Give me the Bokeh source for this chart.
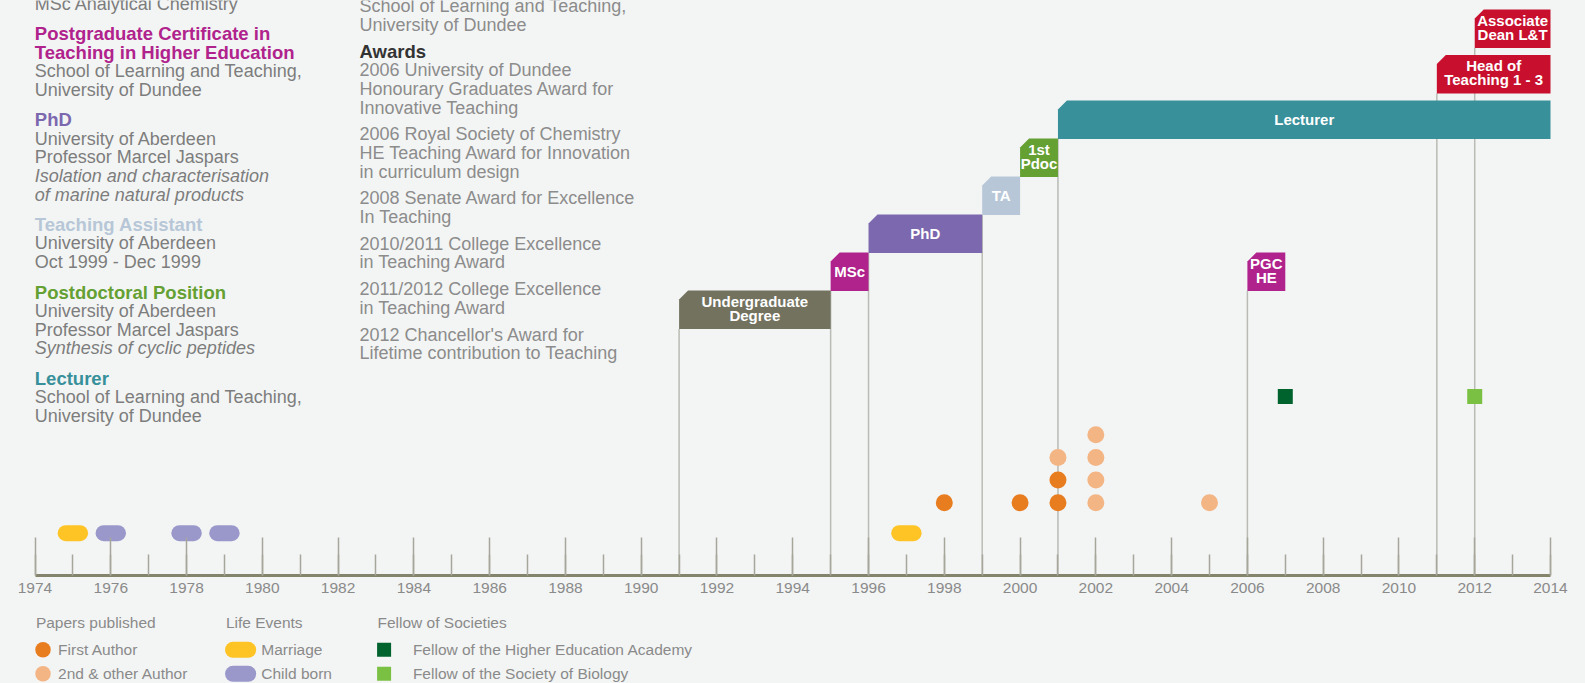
from collections import Counter

from bokeh.plotting import figure
from bokeh.models import Range1d, LinearAxis, SingleIntervalTicker, ColumnDataSource
from bokeh.layouts import column
from bokeh.embed import file_html
from bokeh.resources import INLINE
from bokeh.core.properties import value

# ---------------- data ----------------
role_names = ["Undergraduate\nDegree", "MSc", "PhD", "TA", "1st\nPdoc", "Lecturer",
              "PGC\nHE", "Head of\nTeaching 1 - 3", "Associate\nDean L&T"]
role_start = [1991, 1995, 1996, 1999, 2000, 2001, 2006, 2011, 2012]
role_end = [1995, 1996, 1999, 2000, 2001, 2014, 2007, 2014, 2014]
role_level = [5, 4, 3, 2, 1, 0, 4, -1, -2]
role_colors = ["#72725f", "#b0228c", "#7b68ae", "#b7c7d7", "#65a033", "#37909a",
               "#b0228c", "#c8102e", "#c8102e"]
role_has_line = [True, True, True, True, False, True, True, True, True]

first_author_years = [1998, 2000, 2001, 2001]
other_author_years = [2001, 2002, 2002, 2002, 2002, 2005]
marriage_years = [1975, 1997]
child_years = [1976, 1978, 1979]
fhea_years = [2007]
fsb_years = [2012]

axis_years = (1974, 2014)

left_groups = [
    [("MSc Analytical Chemistry", "normal", "#7d7d7d")],
    [("Postgraduate Certificate in", "bold", "#b0228c"),
     ("Teaching in Higher Education", "bold", "#b0228c"),
     ("School of Learning and Teaching,", "normal", "#7d7d7d"),
     ("University of Dundee", "normal", "#7d7d7d")],
    [("PhD", "bold", "#7b68ae"),
     ("University of Aberdeen", "normal", "#7d7d7d"),
     ("Professor Marcel Jaspars", "normal", "#7d7d7d"),
     ("Isolation and characterisation", "italic", "#7d7d7d"),
     ("of marine natural products", "italic", "#7d7d7d")],
    [("Teaching Assistant", "bold", "#b7c7d7"),
     ("University of Aberdeen", "normal", "#7d7d7d"),
     ("Oct 1999 - Dec 1999", "normal", "#7d7d7d")],
    [("Postdoctoral Position", "bold", "#65a033"),
     ("University of Aberdeen", "normal", "#7d7d7d"),
     ("Professor Marcel Jaspars", "normal", "#7d7d7d"),
     ("Synthesis of cyclic peptides", "italic", "#7d7d7d")],
    [("Lecturer", "bold", "#37909a"),
     ("School of Learning and Teaching,", "normal", "#7d7d7d"),
     ("University of Dundee", "normal", "#7d7d7d")],
]

middle_groups = [
    [("School of Learning and Teaching,", "normal", "#8c8c8c"),
     ("University of Dundee", "normal", "#8c8c8c")],
    [("Awards", "bold", "#333333"),
     ("2006 University of Dundee", "normal", "#8c8c8c"),
     ("Honourary Graduates Award for", "normal", "#8c8c8c"),
     ("Innovative Teaching", "normal", "#8c8c8c")],
    [("2006 Royal Society of Chemistry", "normal", "#8c8c8c"),
     ("HE Teaching Award for Innovation", "normal", "#8c8c8c"),
     ("in curriculum design", "normal", "#8c8c8c")],
    [("2008 Senate Award for Excellence", "normal", "#8c8c8c"),
     ("In Teaching", "normal", "#8c8c8c")],
    [("2010/2011 College Excellence", "normal", "#8c8c8c"),
     ("in Teaching Award", "normal", "#8c8c8c")],
    [("2011/2012 College Excellence", "normal", "#8c8c8c"),
     ("in Teaching Award", "normal", "#8c8c8c")],
    [("2012 Chancellor's Award for", "normal", "#8c8c8c"),
     ("Lifetime contribution to Teaching", "normal", "#8c8c8c")],
]

legend_titles = ["Papers published", "Life Events", "Fellow of Societies"]
legend_papers = ["First Author", "2nd & other Author"]
legend_life = ["Marriage", "Child born"]
legend_fellow = ["Fellow of the Higher Education Academy", "Fellow of the Society of Biology"]

# ---------------- layout constants ----------------
BG = "#f3f5f4"
FONT = value("Liberation Sans")
W = 1585
HA = 605
HB = 78
AXIS_Y = 575
TOP = 0
PX_1974, PX_2014 = 34.5, 1550.0
ppy = (PX_2014 - PX_1974) / (axis_years[1] - axis_years[0])
x_lo = axis_years[0] - (PX_1974 - TOP) / ppy
x_hi = x_lo + W / ppy

pA = figure(width=W, height=HA, x_range=Range1d(x_lo, x_hi), y_range=Range1d(AXIS_Y, TOP),
            output_backend="svg", toolbar_location=None, x_axis_location=None,
            y_axis_location=None, min_border=0, min_border_bottom=HA - (AXIS_Y - TOP),
            background_fill_color=BG, border_fill_color=BG, outline_line_color=None)
pA.grid.visible = False
pA.extra_x_ranges = {"px": Range1d(TOP, TOP + W)}

ax = LinearAxis(ticker=SingleIntervalTicker(interval=2, num_minor_ticks=2), bounds=axis_years)
ax.axis_line_color = "#84836c"
ax.axis_line_width = 3
ax.major_tick_in = 38
ax.major_tick_out = 0
ax.minor_tick_in = 21
ax.minor_tick_out = 0
ax.major_tick_line_color = "#a6a69a"
ax.minor_tick_line_color = "#a6a69a"
ax.major_tick_line_width = 1.5
ax.minor_tick_line_width = 1.5
ax.major_label_text_font = "Liberation Sans"
ax.major_label_text_font_size = "15.5px"
ax.major_label_text_color = "#8a8a8a"
ax.major_label_standoff = 7
pA.add_layout(ax, "below")

# ---------------- roles ----------------
BOX_H = 38.5
CH = 9.0


def role_top(level):
    return 100 + 38 * level if level >= 0 else 100 + 45.5 * level


tops = [role_top(l) for l in role_level]
bottoms = [t + BOX_H for t in tops]

# connector lines
lx = [s for s, h in zip(role_start, role_has_line) if h]
ly = [b for b, h in zip(bottoms, role_has_line) if h]
pA.segment(x0=lx, y0=ly, x1=lx, y1=[AXIS_Y] * len(lx), line_color="#b9bbb4", line_width=1.5)

xs, ys = [], []
ch_yr = CH / ppy
for s, e, t, b in zip(role_start, role_end, tops, bottoms):
    xs.append([s, s, s + ch_yr, e, e])
    ys.append([b, t + CH, t, t, b])
pA.patches(xs=xs, ys=ys, fill_color=role_colors, line_color=None)

label_y = [t + BOX_H / 2 - (1.5 if "\n" in n else 0) for t, n in zip(tops, role_names)]
pA.text(x=[(s + e) / 2 for s, e in zip(role_start, role_end)],
        y=label_y, text=role_names,
        text_font=FONT, text_font_style="bold", text_font_size="15px",
        text_color="white", text_align="center", text_baseline="middle",
        text_line_height=0.85)

# ---------------- papers ----------------
DOT_BASE = 502.3
DOT_STEP = 22.7
cnt = Counter()
fa_y, oa_y = [], []
for yv in first_author_years:
    fa_y.append(DOT_BASE - DOT_STEP * cnt[yv]); cnt[yv] += 1
for yv in other_author_years:
    oa_y.append(DOT_BASE - DOT_STEP * cnt[yv]); cnt[yv] += 1
pA.scatter(x=first_author_years, y=fa_y, size=17, fill_color="#e87d20", line_color=None)
pA.scatter(x=other_author_years, y=oa_y, size=17, fill_color="#f3b584", line_color=None)

# ---------------- life events (pills) ----------------
PILL_Y = 532.7
half = 7.2 / ppy
pA.segment(x0=[m - half for m in marriage_years], y0=[PILL_Y] * len(marriage_years),
           x1=[m + half for m in marriage_years], y1=[PILL_Y] * len(marriage_years),
           line_color="#fec325", line_width=16, line_cap="round")
pA.segment(x0=[c - half for c in child_years], y0=[PILL_Y] * len(child_years),
           x1=[c + half for c in child_years], y1=[PILL_Y] * len(child_years),
           line_color="#9a98cb", line_width=16, line_cap="round")

# ---------------- fellowships ----------------
pA.scatter(x=fhea_years, y=[396] * len(fhea_years), marker="square", size=15,
           fill_color="#00622d", line_color=None)
pA.scatter(x=fsb_years, y=[396] * len(fsb_years), marker="square", size=15,
           fill_color="#7ac143", line_color=None)


# ---------------- text columns ----------------
def layout_column(groups, x, y0, step, gap):
    rows = dict(x=[], y=[], text=[], style=[], color=[], size=[])
    y = y0
    for g in groups:
        for t, st, c in g:
            rows["x"].append(x); rows["y"].append(y); rows["text"].append(t)
            rows["style"].append(st); rows["color"].append(c)
            rows["size"].append("18.5px" if st == "bold" else "18px")
            y += step
        y += gap
    return rows


for rows in (layout_column(left_groups, 34.3, 3.0, 18.7, 11.4),
             layout_column(middle_groups, 359.0, 5.5, 18.7, 8.0)):
    pA.text(x="x", y="y", text="text", source=ColumnDataSource(rows), x_range_name="px",
            text_font=FONT, text_font_style="style", text_color="color",
            text_font_size="size", text_align="left", text_baseline="middle")

# ---------------- legend figure ----------------
B_TOP = TOP + HA
pB = figure(width=W, height=HB, x_range=Range1d(TOP, TOP + W), y_range=Range1d(B_TOP + HB, B_TOP),
            output_backend="svg", toolbar_location=None, x_axis_location=None,
            y_axis_location=None, min_border=0,
            background_fill_color=BG, border_fill_color=BG, outline_line_color=None)
pB.grid.visible = False

TITLE_Y, ROW1, ROW2 = 621.7, 649.3, 673.3
LEG_FS = "15.5px"
col_x = [35.4, 225.4, 377.0]
pB.text(x=col_x, y=[TITLE_Y] * 3, text=legend_titles, text_font=FONT, text_font_size=LEG_FS,
        text_color="#8a8a8a", text_baseline="middle")
rows_y = [ROW1, ROW2]
pB.scatter(x=[42.5, 42.5], y=rows_y, size=15.5, fill_color=["#e87d20", "#f3b584"], line_color=None)
pB.text(x=[57.6] * 2, y=rows_y, text=legend_papers, text_font=FONT, text_font_size=LEG_FS,
        text_color="#8a8a8a", text_baseline="middle")
pB.segment(x0=[232.5] * 2, y0=rows_y, x1=[247.7] * 2, y1=rows_y,
           line_color=["#fec325", "#9a98cb"], line_width=16, line_cap="round")
pB.text(x=[260.8] * 2, y=rows_y, text=legend_life, text_font=FONT, text_font_size=LEG_FS,
        text_color="#8a8a8a", text_baseline="middle")
pB.scatter(x=[383.6] * 2, y=rows_y, marker="square", size=14,
           fill_color=["#00622d", "#7ac143"], line_color=None)
pB.text(x=[412.4] * 2, y=rows_y, text=legend_fellow, text_font=FONT, text_font_size=LEG_FS,
        text_color="#8a8a8a", text_baseline="middle")

layout = column(pA, pB, spacing=0, styles={"background-color": BG})
open("out.html", "w").write(file_html(layout, INLINE))
